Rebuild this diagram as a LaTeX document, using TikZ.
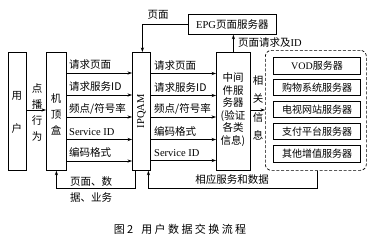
\documentclass[tikz,border=0pt]{standalone}
\usepackage{fontspec}
\newfontfamily\cjk{Noto Sans CJK SC}
\newfontfamily\capfont[LetterSpace=22]{Noto Sans CJK SC}
\newfontfamily\latin{Liberation Serif}
\usetikzlibrary{arrows.meta}
\begin{document}
\begin{tikzpicture}[x=1pt,y=-1pt,
  box/.style={draw,line width=0.8pt,inner sep=0pt},
  srv/.style={draw,line width=1.1pt,inner sep=0pt,minimum width=87pt,minimum height=16.5pt,anchor=north west,font=\cjk\fontsize{10}{12}\selectfont},
  arr/.style={-{Stealth[length=4.5pt,width=3.2pt]},line width=0.6pt},
  lbl/.style={inner sep=0pt,font=\cjk\fontsize{10.5}{12.5}\selectfont},
  vlbl/.style={inner sep=0pt,align=center,font=\cjk\fontsize{10.5}{#1}\selectfont},
  rowtxt/.style={lbl,anchor=base west}]
\useasboundingbox (0,0) rectangle (374,236);
% main boxes
\node[box,minimum width=18pt,minimum height=118pt,anchor=north west] (user) at (8,52) {};
\node[box,minimum width=20pt,minimum height=118pt,anchor=north west] (stb) at (46,52) {};
\node[box,minimum width=18pt,minimum height=118pt,anchor=north west] (ipqam) at (132,52) {};
\node[box,minimum width=34pt,minimum height=118pt,anchor=north west] (mw) at (216,52) {};
\node[box,minimum width=88pt,minimum height=20pt,anchor=north west,font=\cjk\fontsize{10.5}{12}\selectfont] (epg) at (188,14) {{\latin EPG}页面服务器};
\node[draw,dashed,dash pattern=on 3pt off 1.8pt,line width=0.7pt,rounded corners=6pt,minimum width=101pt,minimum height=120pt,anchor=north west] (dbox) at (265,50) {};
% texts inside boxes
\node[vlbl=33] (usertxt) at (17,112) {用\\户};
\node[vlbl=16] (stbtxt) at (56,114) {机\\顶\\盒};
\node[lbl,rotate=90,font=\latin\fontsize{10.5}{12}\selectfont] (ipqamtxt) at (ipqam.center) {IPQAM};
\node[vlbl=12.5] (mwtxt) at (233,109.5) {中间\\件服\\务器\\(验证\\各类\\信息)};
% servers
\node[srv] (vod) at (273,57) {{\latin VOD}服务器};
\node[srv] (shop) at (273,78.5) {购物系统服务器};
\node[srv] (tv) at (273,100.5) {电视网站服务器};
\node[srv] (pay) at (273,122.5) {支付平台服务器};
\node[srv] (other) at (273,145) {其他增值服务器};
% user -> stb
\node[vlbl=16.3] (dbxw) at (37,112.5) {点\\播\\行\\为};
\draw[arr] (user.east |- 0,110) -- (stb.west |- 0,110);
% rows stb -> ipqam
\foreach \y/\t [count=\i] in {73/{请求页面},95/{请求服务ID},117/{频点/符号率},139.5/{\latin Service ID},161/{编码格式}}{
  \node[rowtxt] (la\i) at (69,\y-4.5) {\t};
  \draw[arr] (stb.east |- 0,\y) -- (ipqam.west |- 0,\y);
}
% rows ipqam -> mw
\foreach \y/\t [count=\i] in {73.5/{请求页面},95.5/{请求服务ID},117/{频点/符号率},139.5/{编码格式},160.5/{\latin Service ID}}{
  \node[rowtxt] (lb\i) at (154,\y-4.5) {\t};
  \draw[arr] (ipqam.east |- 0,\y) -- (mw.west |- 0,\y);
}
% mw -> servers
\node[vlbl=18.6] (xgxx) at (258,108) {相\\关\\信\\息};
\draw[arr] (mw.east |- 0,110) -- (dbox.west |- 0,110);
% EPG links
\draw[arr] (epg.west) -| ([xshift=1pt]ipqam.north);
\node[lbl] (ym) at (158,15) {页面};
\draw[arr] (mw.north) -- (mw.north |- epg.south);
\node[lbl,anchor=west] (ymqq) at (238,43) {页面请求及{\latin ID}};
% return loops
\draw[arr] ([xshift=-6pt]ipqam.south) -- ++(0,17.5) -| (stb.south);
\node[vlbl=16] (ymsj) at (91,190) {页面、数\\据、业务};
\draw[arr] ([xshift=1.5pt]dbox.south) -- ++(0,17.5) -| ([xshift=7pt]ipqam.south);
\node[lbl] (xyfw) at (232,179) {相应服务和数据};
% caption
\node[inner sep=0pt,font=\capfont\fontsize{11}{13}\selectfont] (cap) at (180,229) {图2\hspace{8pt}用户数据交换流程};
\end{tikzpicture}
\end{document}
